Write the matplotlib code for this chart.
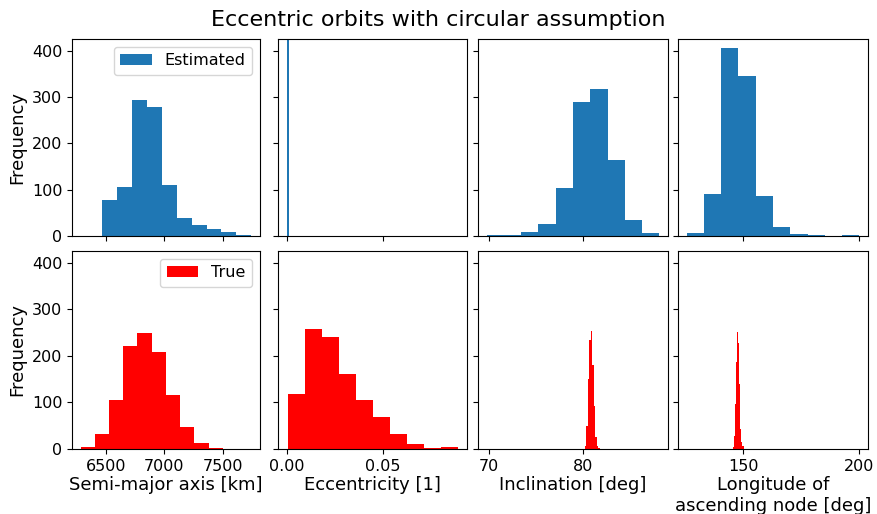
import numpy as np
import matplotlib
matplotlib.use('Agg')
import matplotlib.pyplot as plt

# Histogram counts (10 bins per panel)
# Semi-major axis [km]
sma_est_edges = np.linspace(6466, 7744, 11)
sma_est_counts = [78, 106, 293, 278, 110, 39, 24, 15, 8, 2]
sma_true_edges = np.linspace(6286, 7500, 11)
sma_true_counts = [5, 32, 106, 222, 249, 209, 116, 47, 13, 3]

# Eccentricity [1] - estimate is always circular (e = 0)
ecc_est_edges = [0.0, 0.0012]
ecc_est_counts = [955]
ecc_true_edges = np.linspace(0.0005, 0.0891, 11)
ecc_true_counts = [118, 258, 241, 161, 105, 69, 32, 11, 2, 5]

# Inclination [deg]
inc_est_edges = np.linspace(69.74, 88.07, 11)
inc_est_counts = [2, 2, 9, 26, 104, 289, 317, 164, 35, 6]
inc_true_edges = np.linspace(80.17, 81.77, 11)
inc_true_counts = [6, 50, 151, 235, 254, 181, 93, 26, 6, 2]

# Longitude of ascending node [deg]
lan_est_edges = np.linspace(125.6, 200.0, 11)
lan_est_counts = [6, 91, 405, 345, 86, 19, 4, 2, 0, 2]
lan_true_edges = np.linspace(145.4, 150.1, 11)
lan_true_counts = [5, 27, 97, 186, 252, 228, 140, 44, 15, 6]

xlabels = ['Semi-major axis [km]', 'Eccentricity [1]', 'Inclination [deg]',
           'Longitude of\nascending node [deg]']
xticks = [[6500, 7000, 7500], [0.0, 0.05], [70, 80], [150, 200]]
xticklabels = [['6500', '7000', '7500'], ['0.00', '0.05'], ['70', '80'], ['150', '200']]
yticks = [0, 100, 200, 300, 400]

est = [(sma_est_edges, sma_est_counts), (ecc_est_edges, ecc_est_counts),
       (inc_est_edges, inc_est_counts), (lan_est_edges, lan_est_counts)]
true = [(sma_true_edges, sma_true_counts), (ecc_true_edges, ecc_true_counts),
        (inc_true_edges, inc_true_counts), (lan_true_edges, lan_true_counts)]

W, H = 877, 514
fig, axes = plt.subplots(2, 4, figsize=(W / 100, H / 100), dpi=100,
                         sharex='col', sharey=True)

# axes boxes in pixels (left, right) per column and (top, bottom) per row
cols = [(72, 260), (278, 467), (478, 668), (678, 868)]
rows = [(39, 236), (251, 449)]
for r, (t, b) in enumerate(rows):
    for c, (l, rr) in enumerate(cols):
        axes[r, c].set_position([l / W, 1 - b / H, (rr - l) / W, (b - t) / H])

for c in range(4):
    e, n = est[c]
    axes[0, c].hist(np.asarray(e)[:-1], bins=e, weights=n, color='#1f77b4',
                    label='Estimated')
    e, n = true[c]
    axes[1, c].hist(np.asarray(e)[:-1], bins=e, weights=n, color='red',
                    label='True')
    axes[1, c].set_xticks(xticks[c])
    axes[1, c].set_xticklabels(xticklabels[c])
    axes[1, c].set_xlabel(xlabels[c], fontsize=13, labelpad=2)

for ax in axes.flat:
    ax.tick_params(labelsize=11.5)
axes[0, 0].set_ylim(0, 425)
axes[0, 0].set_yticks(yticks)
axes[0, 0].set_ylabel('Frequency', fontsize=13)
axes[1, 0].set_ylabel('Frequency', fontsize=13)
axes[0, 0].legend(loc='upper right', fontsize=11.5)
axes[1, 0].legend(loc='upper right', fontsize=11.5)

fig.suptitle('Eccentric orbits with circular assumption', fontsize=16,
             y=1 - 20 / H, va='center')
fig.savefig('out.png', dpi=100)
